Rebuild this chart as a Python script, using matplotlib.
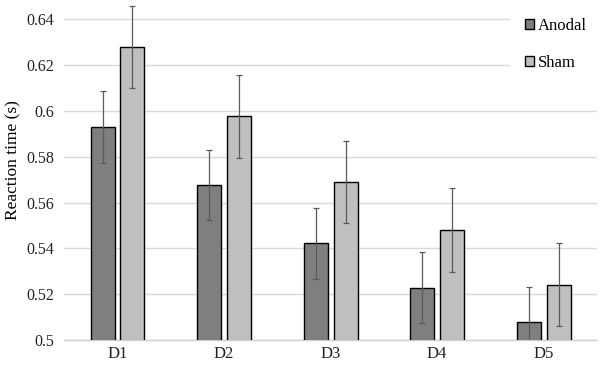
import numpy as np
import matplotlib as mpl
mpl.use('Agg')
import matplotlib.pyplot as plt
from matplotlib.patches import Rectangle

# values
days = ['D1', 'D2', 'D3', 'D4', 'D5']
anodal = [0.593, 0.5676, 0.5423, 0.5228, 0.508]
anodal_err = [0.0156, 0.0153, 0.0155, 0.0155, 0.015]
sham = [0.628, 0.5977, 0.569, 0.5482, 0.5241]
sham_err = [0.018, 0.018, 0.018, 0.0183, 0.0182]
yticks = [0.5, 0.52, 0.54, 0.56, 0.58, 0.6, 0.62, 0.64]
ytick_labels = ['0.5', '0.52', '0.54', '0.56', '0.58', '0.6', '0.62', '0.64']

plt.rcParams['font.family'] = ['Liberation Serif', 'DejaVu Serif']

fig = plt.figure(figsize=(6, 3.65), dpi=100)
ax = fig.add_axes([0.107, 0.0685, 0.888, 0.922])

x = np.arange(len(days))
w = 0.225
off = 0.14
err_kw = dict(ecolor='#5a5a5a', elinewidth=0.9, capsize=2.2, capthick=0.9)
ax.bar(x - off, anodal, w, yerr=anodal_err, color='#7f7f7f', edgecolor='black',
       linewidth=1.0, label='Anodal', error_kw=err_kw, zorder=3)
ax.bar(x + off, sham, w, yerr=sham_err, color='#bfbfbf', edgecolor='black',
       linewidth=1.0, label='Sham', error_kw=err_kw, zorder=3)

ax.set_xlim(-0.5, len(days) - 0.5)
ax.set_ylim(0.5, 0.647)
ax.set_yticks(yticks)
ax.set_yticklabels(ytick_labels)
ax.set_xticks(x)
ax.set_xticklabels(days)
ax.tick_params(axis='both', length=0, colors='#222222')
ax.tick_params(axis='x', labelsize=12, pad=4)
ax.tick_params(axis='y', labelsize=11.5, pad=7)
ax.set_ylabel('Reaction time (s)', fontsize=12.5)
ax.yaxis.set_label_coords(-0.08, 0.535)

ax.yaxis.grid(True, color='#d9d9d9', linewidth=1.0, zorder=0)
for s in ['top', 'right', 'left']:
    ax.spines[s].set_visible(False)
ax.spines['bottom'].set_color('#d0d0d0')
ax.spines['bottom'].set_linewidth(1.0)

# white block behind the legend, cuts the top gridlines like the original
ax.add_patch(Rectangle((510 / 600, 1 - 80 / 365), 90 / 600, 80 / 365,
                       transform=fig.transFigure, facecolor='white',
                       edgecolor='none', zorder=4, clip_on=False))

leg = ax.legend(loc='upper left', bbox_to_anchor=(525 / 600, 1 - 18 / 365),
                bbox_transform=fig.transFigure, frameon=False,
                fontsize=12, handlelength=0.55, handleheight=0.55,
                handletextpad=0.2, labelspacing=1.25, borderpad=0,
                borderaxespad=0)
leg.set_zorder(6)

fig.savefig('out.png', dpi=100)
